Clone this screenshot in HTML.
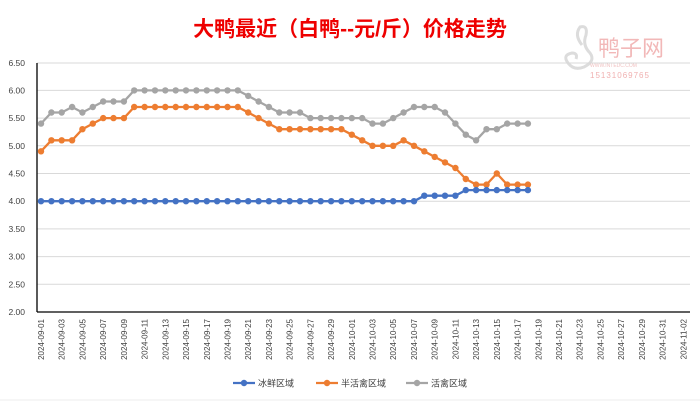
<!DOCTYPE html>
<html><head><meta charset="utf-8"><style>
body{margin:0;background:#fff;width:700px;height:401px;overflow:hidden}
.yl{font-size:8.5px;fill:#404040;text-anchor:end}
.xl{font-size:8px;fill:#404040;text-anchor:end}
</style></head><body>
<svg width="700" height="401" xmlns="http://www.w3.org/2000/svg" font-family="Liberation Sans, sans-serif">
<defs>
<marker id="mb" markerWidth="8" markerHeight="8" refX="4" refY="4" markerUnits="userSpaceOnUse"><circle cx="4" cy="4" r="3.2" fill="#4472c4"/></marker>
<marker id="mo" markerWidth="8" markerHeight="8" refX="4" refY="4" markerUnits="userSpaceOnUse"><circle cx="4" cy="4" r="3.2" fill="#ed7d31"/></marker>
<marker id="mg" markerWidth="8" markerHeight="8" refX="4" refY="4" markerUnits="userSpaceOnUse"><circle cx="4" cy="4" r="3.2" fill="#a5a5a5"/></marker>
</defs>
<rect width="700" height="401" fill="#fff"/>
<text x="350" y="36" text-anchor="middle" font-size="21" font-weight="bold" fill="#ee0000" font-family="Liberation Sans, Noto Sans CJK SC, sans-serif">大鸭最近（白鸭--元/斤）价格走势</text>
<path d="M582 45 q-8 -10 -2 -18 q8 -2 6 8 q-4 10 4 18 q6 8 -6 14 q-10 4 -16 -4 q-6 -8 4 -10 q6 0 4 6" fill="none" stroke="#dcdcdc" stroke-width="3"/>
<text x="598" y="56" font-size="22" fill="#f2b8b8" font-family="Noto Sans CJK SC, sans-serif">鸭子网</text>
<text x="590" y="67" font-size="5" fill="#f0c0c0">WWW.INTEDC.COM</text>
<text x="590" y="78" font-size="8" fill="#f0b0b0" letter-spacing="1">15131069765</text>
<g stroke="#d9d9d9" stroke-width="1">
<line x1="37" x2="690" y1="63" y2="63"/><line x1="37" x2="690" y1="90.4" y2="90.4"/><line x1="37" x2="690" y1="118.1" y2="118.1"/><line x1="37" x2="690" y1="145.8" y2="145.8"/><line x1="37" x2="690" y1="173.5" y2="173.5"/><line x1="37" x2="690" y1="201.2" y2="201.2"/><line x1="37" x2="690" y1="228.9" y2="228.9"/><line x1="37" x2="690" y1="256.6" y2="256.6"/><line x1="37" x2="690" y1="284.3" y2="284.3"/>
</g>
<text class="yl" x="25" y="66">6.50</text><text class="yl" x="25" y="93.4">6.00</text><text class="yl" x="25" y="121.1">5.50</text><text class="yl" x="25" y="148.8">5.00</text><text class="yl" x="25" y="176.5">4.50</text><text class="yl" x="25" y="204.2">4.00</text><text class="yl" x="25" y="231.9">3.50</text><text class="yl" x="25" y="259.6">3.00</text><text class="yl" x="25" y="287.3">2.50</text><text class="yl" x="25" y="315">2.00</text>
<line x1="37" x2="37" y1="63" y2="312" stroke="#000" stroke-width="1.3"/>
<line x1="37" x2="690" y1="312" y2="312" stroke="#000" stroke-width="1.3"/>
<g class="xl">
<text class="xl" transform="translate(44,319) rotate(-90)">2024-09-01</text>
<text class="xl" transform="translate(64.7,319) rotate(-90)">2024-09-03</text>
<text class="xl" transform="translate(85.4,319) rotate(-90)">2024-09-05</text>
<text class="xl" transform="translate(106.2,319) rotate(-90)">2024-09-07</text>
<text class="xl" transform="translate(126.9,319) rotate(-90)">2024-09-09</text>
<text class="xl" transform="translate(147.6,319) rotate(-90)">2024-09-11</text>
<text class="xl" transform="translate(168.3,319) rotate(-90)">2024-09-13</text>
<text class="xl" transform="translate(189,319) rotate(-90)">2024-09-15</text>
<text class="xl" transform="translate(209.8,319) rotate(-90)">2024-09-17</text>
<text class="xl" transform="translate(230.5,319) rotate(-90)">2024-09-19</text>
<text class="xl" transform="translate(251.2,319) rotate(-90)">2024-09-21</text>
<text class="xl" transform="translate(271.9,319) rotate(-90)">2024-09-23</text>
<text class="xl" transform="translate(292.6,319) rotate(-90)">2024-09-25</text>
<text class="xl" transform="translate(313.4,319) rotate(-90)">2024-09-27</text>
<text class="xl" transform="translate(334.1,319) rotate(-90)">2024-09-29</text>
<text class="xl" transform="translate(354.8,319) rotate(-90)">2024-10-01</text>
<text class="xl" transform="translate(375.5,319) rotate(-90)">2024-10-03</text>
<text class="xl" transform="translate(396.2,319) rotate(-90)">2024-10-05</text>
<text class="xl" transform="translate(417,319) rotate(-90)">2024-10-07</text>
<text class="xl" transform="translate(437.7,319) rotate(-90)">2024-10-09</text>
<text class="xl" transform="translate(458.4,319) rotate(-90)">2024-10-11</text>
<text class="xl" transform="translate(479.1,319) rotate(-90)">2024-10-13</text>
<text class="xl" transform="translate(499.8,319) rotate(-90)">2024-10-15</text>
<text class="xl" transform="translate(520.6,319) rotate(-90)">2024-10-17</text>
<text class="xl" transform="translate(541.3,319) rotate(-90)">2024-10-19</text>
<text class="xl" transform="translate(562,319) rotate(-90)">2024-10-21</text>
<text class="xl" transform="translate(582.7,319) rotate(-90)">2024-10-23</text>
<text class="xl" transform="translate(603.4,319) rotate(-90)">2024-10-25</text>
<text class="xl" transform="translate(624.2,319) rotate(-90)">2024-10-27</text>
<text class="xl" transform="translate(644.9,319) rotate(-90)">2024-10-29</text>
<text class="xl" transform="translate(665.6,319) rotate(-90)">2024-10-31</text>
<text class="xl" transform="translate(686.3,319) rotate(-90)">2024-11-02</text>
</g>
<polyline fill="none" stroke="#a5a5a5" stroke-width="2.3" marker-start="url(#mg)" marker-mid="url(#mg)" marker-end="url(#mg)" points="41,123.6 51.4,112.5 61.7,112.5 72.1,107 82.4,112.5 92.8,107 103.2,101.5 113.5,101.5 123.9,101.5 134.2,90.4 144.6,90.4 155,90.4 165.3,90.4 175.7,90.4 186,90.4 196.4,90.4 206.8,90.4 217.1,90.4 227.5,90.4 237.8,90.4 248.2,95.9 258.6,101.5 268.9,107 279.3,112.5 289.6,112.5 300,112.5 310.4,118.1 320.7,118.1 331.1,118.1 341.4,118.1 351.8,118.1 362.2,118.1 372.5,123.6 382.9,123.6 393.2,118.1 403.6,112.5 414,107 424.3,107 434.7,107 445,112.5 455.4,123.6 465.8,134.7 476.1,140.3 486.5,129.2 496.8,129.2 507.2,123.6 517.6,123.6 527.9,123.6"/>
<polyline fill="none" stroke="#ed7d31" stroke-width="2.3" marker-start="url(#mo)" marker-mid="url(#mo)" marker-end="url(#mo)" points="41,151.3 51.4,140.3 61.7,140.3 72.1,140.3 82.4,129.2 92.8,123.6 103.2,118.1 113.5,118.1 123.9,118.1 134.2,107 144.6,107 155,107 165.3,107 175.7,107 186,107 196.4,107 206.8,107 217.1,107 227.5,107 237.8,107 248.2,112.5 258.6,118.1 268.9,123.6 279.3,129.2 289.6,129.2 300,129.2 310.4,129.2 320.7,129.2 331.1,129.2 341.4,129.2 351.8,134.7 362.2,140.3 372.5,145.8 382.9,145.8 393.2,145.8 403.6,140.3 414,145.8 424.3,151.3 434.7,156.9 445,162.4 455.4,168 465.8,179 476.1,184.6 486.5,184.6 496.8,173.5 507.2,184.6 517.6,184.6 527.9,184.6"/>
<polyline fill="none" stroke="#4472c4" stroke-width="2.3" marker-start="url(#mb)" marker-mid="url(#mb)" marker-end="url(#mb)" points="41,201.2 51.4,201.2 61.7,201.2 72.1,201.2 82.4,201.2 92.8,201.2 103.2,201.2 113.5,201.2 123.9,201.2 134.2,201.2 144.6,201.2 155,201.2 165.3,201.2 175.7,201.2 186,201.2 196.4,201.2 206.8,201.2 217.1,201.2 227.5,201.2 237.8,201.2 248.2,201.2 258.6,201.2 268.9,201.2 279.3,201.2 289.6,201.2 300,201.2 310.4,201.2 320.7,201.2 331.1,201.2 341.4,201.2 351.8,201.2 362.2,201.2 372.5,201.2 382.9,201.2 393.2,201.2 403.6,201.2 414,201.2 424.3,195.7 434.7,195.7 445,195.7 455.4,195.7 465.8,190.1 476.1,190.1 486.5,190.1 496.8,190.1 507.2,190.1 517.6,190.1 527.9,190.1"/>
<g font-size="9" fill="#404040" font-family="Liberation Sans, Noto Sans CJK SC, sans-serif">
<line x1="233" x2="255" y1="383" y2="383" stroke="#4472c4" stroke-width="2.3"/><circle cx="244" cy="383" r="3.2" fill="#4472c4"/><text x="258" y="386.5">冰鲜区域</text>
<line x1="316" x2="338" y1="383" y2="383" stroke="#ed7d31" stroke-width="2.3"/><circle cx="327" cy="383" r="3.2" fill="#ed7d31"/><text x="341" y="386.5">半活禽区域</text>
<line x1="406" x2="428" y1="383" y2="383" stroke="#a5a5a5" stroke-width="2.3"/><circle cx="417" cy="383" r="3.2" fill="#a5a5a5"/><text x="431" y="386.5">活禽区域</text>
</g>
<line x1="0" x2="700" y1="400" y2="400" stroke="#eee"/>
</svg>
</body></html>
